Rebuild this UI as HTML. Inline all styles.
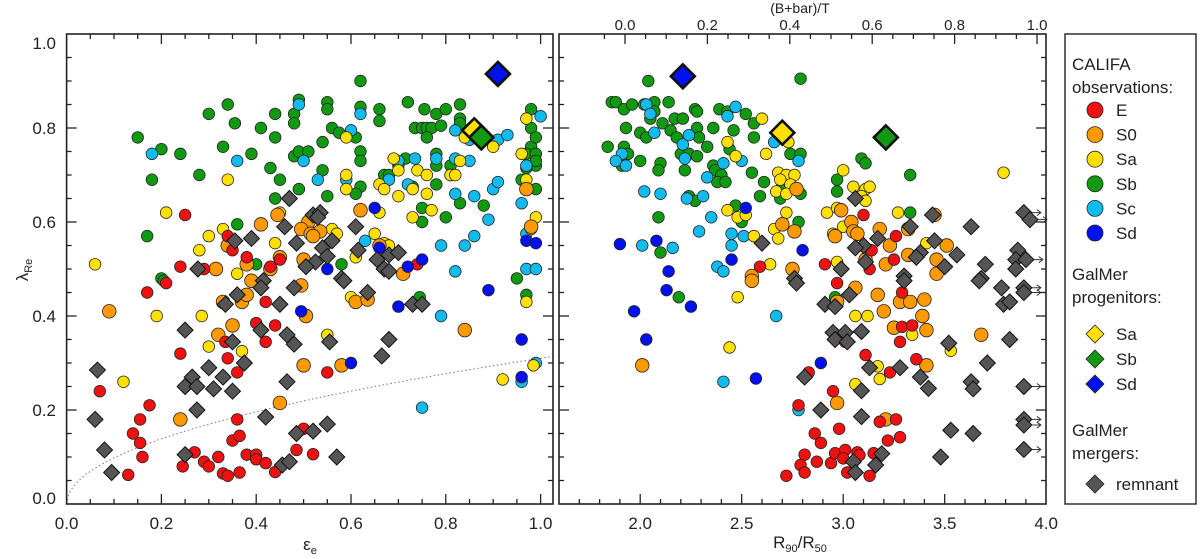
<!DOCTYPE html>
<html><head><meta charset="utf-8"><style>
html,body{margin:0;padding:0;background:#fff;}
svg{display:block;font-family:"Liberation Sans",sans-serif;}
</style></head><body>
<svg id="chart" width="1200" height="559" viewBox="0 0 1200 559">
<rect x="0" y="0" width="1200" height="559" fill="#fff"/>
<g id="left"></g>
<g id="right"></g>
<g id="legend"></g>
</svg>
<script>
// ---------- LEFT PANEL DATA: [ellipticity, lambda_Re] ----------
const leftE = [[.25,.615],[.34,.57],[.35,.54],[.38,.525],[.43,.505],[.45,.52],[.24,.505],[.29,.50],[.74,.51],[.17,.45],[.21,.47],[.24,.32],[.07,.24],[.175,.21],[.155,.18],[.14,.15],[.155,.13],[.16,.10],[.13,.062],[.245,.08],[.27,.11],[.29,.09],[.30,.08],[.32,.10],[.33,.065],[.34,.06],[.35,.135],[.365,.145],[.365,.067],[.36,.18],[.34,.31],[.36,.28],[.335,.345],[.38,.105],[.40,.105],[.40,.095],[.42,.087],[.44,.068],[.485,.115],[.50,.16],[.52,.106],[.55,.28],[.40,.385],[.42,.345],[.42,.43],[.44,.38]];
const leftS0 = [[.41,.595],[.445,.615],[.51,.60],[.495,.585],[.515,.575],[.535,.58],[.52,.57],[.62,.625],[.66,.55],[.71,.49],[.97,.67],[.98,.59],[.34,.55],[.38,.51],[.315,.50],[.43,.50],[.45,.525],[.50,.52],[.09,.41],[.32,.36],[.35,.38],[.33,.43],[.37,.43],[.38,.445],[.39,.475],[.495,.465],[.505,.40],[.50,.295],[.58,.295],[.61,.43],[.635,.435],[.45,.215],[.24,.18],[.84,.37]];
const leftSa = [[.06,.51],[.21,.62],[.34,.69],[.33,.585],[.30,.57],[.28,.54],[.36,.49],[.44,.555],[.45,.62],[.56,.585],[.57,.575],[.59,.70],[.59,.78],[.59,.67],[.66,.68],[.67,.67],[.65,.575],[.67,.555],[.66,.62],[.69,.735],[.70,.71],[.70,.655],[.73,.61],[.73,.67],[.74,.71],[.76,.70],[.76,.66],[.77,.625],[.81,.70],[.82,.70],[.83,.73],[.84,.78],[.86,.80],[.90,.76],[.96,.745],[.97,.82],[.97,.69],[.99,.61],[.98,.585],[.61,.525],[.68,.55],[.12,.26],[.19,.40],[.285,.40],[.30,.335],[.37,.325],[.55,.36],[.60,.44],[.92,.265],[.985,.295],[.97,.43]];
const leftSb = [[.15,.78],[.20,.755],[.18,.69],[.24,.745],[.17,.57],[.34,.85],[.355,.81],[.30,.83],[.33,.76],[.28,.70],[.39,.745],[.41,.80],[.44,.83],[.44,.78],[.43,.715],[.45,.69],[.49,.86],[.48,.83],[.48,.81],[.48,.74],[.49,.75],[.51,.75],[.54,.77],[.54,.71],[.55,.855],[.55,.84],[.56,.80],[.575,.79],[.61,.78],[.62,.90],[.62,.845],[.62,.75],[.62,.73],[.62,.675],[.61,.66],[.55,.655],[.49,.67],[.44,.65],[.36,.595],[.66,.84],[.66,.815],[.72,.855],[.67,.70],[.68,.70],[.70,.72],[.715,.735],[.73,.675],[.735,.80],[.75,.80],[.755,.84],[.76,.80],[.77,.80],[.76,.78],[.78,.83],[.79,.805],[.78,.745],[.78,.72],[.78,.68],[.80,.84],[.81,.72],[.81,.70],[.83,.85],[.83,.82],[.83,.81],[.83,.64],[.80,.61],[.75,.63],[.75,.60],[.88,.635],[.98,.84],[.98,.80],[.98,.76],[.97,.745],[.99,.745],[.99,.72],[.99,.73],[.99,.78],[.96,.69],[.97,.715],[.99,.67],[.95,.48],[.58,.51],[.40,.51],[.20,.48],[.745,.44],[.97,.445],[.205,.475]];
const leftSc = [[.18,.745],[.36,.73],[.49,.85],[.50,.73],[.53,.69],[.62,.83],[.60,.795],[.59,.69],[.735,.735],[.70,.73],[.68,.69],[.72,.68],[.78,.735],[.82,.795],[.82,.735],[.85,.775],[.85,.73],[.82,.66],[.86,.655],[.90,.67],[.91,.685],[.89,.605],[.86,.57],[.84,.55],[.79,.55],[.82,.495],[.91,.775],[.93,.785],[.96,.64],[.97,.72],[1.0,.825],[.97,.575],[.97,.50],[.99,.50],[.63,.56],[.79,.40],[.75,.205],[.96,.26],[.99,.30]];
const leftSd = [[.65,.63],[.75,.52],[.72,.505],[.55,.50],[.97,.56],[.99,.555],[.66,.545],[.89,.455],[.70,.42],[.495,.41],[.60,.30],[.96,.35],[.96,.27]];
const leftRem = [[.47,.65],[.46,.59],[.39,.565],[.355,.56],[.485,.555],[.52,.615],[.535,.62],[.53,.61],[.61,.59],[.56,.56],[.54,.545],[.55,.527],[.615,.54],[.655,.52],[.67,.50],[.68,.53],[.70,.535],[.525,.515],[.505,.505],[.277,.50],[.58,.48],[.415,.475],[.68,.495],[.065,.285],[.06,.18],[.08,.115],[.095,.067],[.25,.37],[.265,.27],[.25,.25],[.275,.25],[.275,.20],[.30,.29],[.31,.245],[.33,.27],[.35,.24],[.335,.425],[.36,.445],[.35,.345],[.375,.30],[.41,.46],[.41,.37],[.45,.425],[.465,.36],[.48,.34],[.48,.46],[.465,.26],[.42,.185],[.25,.105],[.455,.083],[.47,.09],[.485,.15],[.52,.155],[.55,.17],[.555,.345],[.57,.10],[.635,.45],[.665,.315],[.68,.35],[.73,.425],[.75,.425],[.585,.475]];
const leftProgSa = [.86,.795], leftProgSb = [.875,.78], leftProgSd = [.91,.915];
const curveCoef = 0.31;
const leftXTicks = ["0.0","0.2","0.4","0.6","0.8","1.0"];
const yTicks = ["0.0","0.2","0.4","0.6","0.8","1.0"];

// ---------- RIGHT PANEL DATA: [R90/R50, lambda_Re] ----------
const rightE = [[3.10,.615],[3.14,.54],[3.26,.57],[3.25,.52],[2.91,.51],[2.59,.505],[3.13,.50],[2.97,.47],[3.29,.45],[2.83,.28],[2.78,.21],[2.86,.15],[2.89,.13],[2.98,.16],[2.81,.105],[2.87,.09],[2.79,.083],[2.81,.067],[2.72,.06],[2.94,.087],[2.96,.108],[3.01,.115],[3.00,.097],[3.07,.11],[3.08,.104],[3.02,.067],[3.13,.06],[3.15,.108],[3.22,.135],[3.28,.142],[3.26,.18],[3.18,.175],[3.11,.317],[3.23,.28],[3.36,.308],[3.28,.345],[3.29,.377],[3.34,.38],[2.95,.24],[3.01,.345]];
const rightS0 = [[2.77,.67],[2.70,.595],[2.76,.58],[2.55,.485],[2.75,.50],[2.99,.625],[3.04,.60],[3.05,.58],[3.07,.575],[2.96,.57],[3.18,.585],[3.23,.55],[3.21,.51],[3.32,.53],[3.32,.585],[3.45,.615],[3.51,.55],[3.46,.52],[3.46,.49],[3.11,.52],[2.01,.295],[2.55,.475],[3.06,.46],[3.17,.445],[3.20,.41],[3.28,.43],[3.33,.43],[3.40,.435],[3.39,.40],[3.25,.375],[3.41,.37],[3.41,.295],[2.97,.215],[3.21,.18],[3.68,.36],[2.97,.43]];
const rightSa = [[2.60,.82],[2.43,.77],[2.73,.77],[2.62,.745],[2.47,.74],[2.68,.705],[2.72,.70],[2.76,.70],[2.69,.69],[2.74,.68],[2.67,.665],[2.72,.66],[2.43,.625],[2.48,.61],[2.52,.615],[2.72,.62],[2.66,.585],[2.68,.565],[2.56,.57],[2.64,.51],[2.92,.62],[2.97,.63],[2.95,.575],[3.00,.71],[3.05,.675],[3.11,.67],[3.13,.675],[3.09,.655],[3.11,.645],[2.97,.515],[3.79,.705],[3.27,.62],[3.41,.555],[3.00,.59],[2.48,.44],[2.44,.333],[3.06,.40],[3.12,.40],[3.34,.36],[3.53,.326],[3.17,.293],[3.18,.266],[3.06,.255]];
const rightSb = [[2.04,.90],[2.79,.905],[1.86,.855],[1.88,.855],[1.92,.84],[1.96,.85],[2.02,.85],[2.07,.855],[2.14,.855],[2.07,.835],[2.05,.82],[2.11,.81],[2.17,.82],[2.21,.82],[2.27,.84],[2.28,.835],[2.39,.84],[2.43,.835],[2.52,.83],[2.56,.81],[1.93,.80],[2.00,.79],[2.03,.78],[2.15,.795],[2.18,.78],[2.28,.80],[2.36,.80],[2.46,.795],[2.56,.78],[2.29,.78],[2.33,.76],[1.84,.76],[1.92,.76],[1.94,.745],[2.00,.73],[1.91,.72],[2.20,.745],[2.24,.745],[2.28,.74],[2.36,.72],[2.37,.71],[2.40,.70],[2.38,.685],[2.42,.685],[2.10,.725],[2.09,.71],[2.22,.71],[2.44,.755],[2.55,.705],[2.61,.685],[2.70,.68],[2.74,.745],[2.79,.745],[2.79,.66],[2.59,.655],[2.69,.65],[2.47,.635],[2.24,.655],[2.27,.645],[2.09,.61],[2.50,.60],[2.78,.60],[2.10,.535],[3.09,.735],[3.11,.725],[3.33,.70],[3.33,.62],[2.97,.69],[2.97,.665],[2.19,.44],[2.96,.44]];
const rightSc = [[2.03,.85],[2.05,.83],[2.07,.79],[2.21,.765],[2.24,.785],[2.22,.735],[2.43,.825],[2.47,.845],[2.41,.725],[2.50,.73],[2.66,.77],[2.78,.73],[1.91,.745],[1.88,.73],[1.93,.72],[2.02,.665],[2.10,.66],[2.23,.65],[2.31,.655],[2.33,.695],[2.35,.61],[2.29,.58],[2.45,.575],[2.51,.57],[2.45,.55],[2.16,.545],[2.01,.55],[2.38,.505],[2.41,.495],[2.67,.40],[2.41,.26],[2.78,.20]];
const rightSd = [[1.90,.553],[2.08,.56],[2.14,.495],[2.45,.52],[2.80,.54],[2.52,.63],[2.13,.455],[2.25,.42],[1.97,.41],[2.03,.35],[2.57,.267],[2.89,.30]];
const rightRem = [[3.06,.65],[3.33,.59],[3.63,.59],[3.44,.615],[3.17,.565],[3.10,.55],[3.06,.545],[3.11,.515],[2.99,.50],[2.60,.555],[3.45,.56],[3.38,.535],[3.36,.525],[3.56,.53],[3.50,.505],[3.70,.51],[3.86,.54],[3.85,.52],[3.90,.52],[3.89,.62],[3.92,.605],[3.30,.485],[3.68,.48],[2.76,.48],[3.85,.50],[2.77,.47],[3.03,.445],[2.91,.425],[2.96,.42],[2.95,.365],[3.01,.365],[3.09,.367],[2.96,.35],[3.02,.345],[3.13,.29],[3.28,.29],[3.38,.27],[3.42,.246],[3.09,.241],[2.81,.27],[2.89,.20],[3.09,.186],[3.19,.107],[3.16,.083],[3.05,.09],[3.06,.067],[3.52,.342],[3.71,.30],[3.63,.26],[3.64,.245],[3.53,.157],[3.64,.15],[3.48,.10],[3.78,.46],[3.79,.425],[3.82,.43],[3.82,.35],[3.89,.46],[3.89,.45],[3.89,.25],[3.89,.18],[3.89,.168],[3.89,.116],[3.30,.475],[3.67,.475]];
const rightProgSa = [2.70,.79], rightProgSb = [3.21,.78], rightProgSd = [2.21,.91];
const rightXTicks = ["2.0","2.5","3.0","3.5","4.0"];
const topTicks = ["0.0","0.2","0.4","0.6","0.8","1.0"];

const COL = {E:"#ee1111",S0:"#ff9900",Sa:"#ffe000",Sb:"#119911",Sc:"#11bbee",Sd:"#0011ee",rem:"#555555"};
const NS = "http://www.w3.org/2000/svg";
function mk(tag, attrs, parent){const e=document.createElementNS(NS,tag);for(const k in attrs)e.setAttribute(k,attrs[k]);parent.appendChild(e);return e;}

// axis functions
const yTop=34, yBot=504;
function yS(v){return yBot-470*v;}
function xL(v){return 66.6+474*v;}
function xR(v){return 559+203*(v-1.6);}
function xT(b){return 625+412*b;}

function frame(g,x0,x1){
  const r=mk('rect',{x:x0,y:yTop,width:x1-x0,height:yBot-yTop,fill:'none',stroke:'#222','stroke-width':1.6},g);
  
  
}
function tick(g,x1,y1,x2,y2){mk('line',{x1:x1,y1:y1,x2:x2,y2:y2,stroke:'#222','stroke-width':1.3},g);}
function yTicksOn(g,x0,x1,labels){
  for(let i=0;i<=20;i++){const v=i*0.05;const y=yS(v);const L=(i%4===0)?10:5;
    if(i>0&&i<20){tick(g,x0,y,x0+L,y);tick(g,x1,y,x1-L,y);}}
  if(labels){yTicks.forEach((t,i)=>{const v=i*0.2;let y=yS(v)+6;if(i===0)y-=6;if(i===yTicks.length-1)y+=9;
    const tx=mk('text',{x:56,y:y,'text-anchor':'end','font-size':17,fill:'#222'},g);tx.textContent=t;
    
    });}
}
function circle(g,p,xf,col,r,name){
  const c=mk('circle',{cx:xf(p[0]),cy:yS(p[1]),r:r,fill:col,stroke:'#222','stroke-width':0.8},g);
  
  
}
function diamond(g,p,xf,col,h,sw,name){
  const x=xf(p[0]),y=yS(p[1]);
  const d=mk('polygon',{points:`${x},${y-h} ${x+h},${y} ${x},${y+h} ${x-h},${y}`,fill:col,stroke:'#111','stroke-width':sw},g);
  
  
}
function txt(g,x,y,s,size,anchor,name){
  const t=mk('text',{x:x,y:y,'font-size':size,'text-anchor':anchor||'start',fill:'#222'},g);
  t.textContent=s;
  
  
  return t;
}
function drawSeries(g,xf,sets,rem,progs,arrows){
  sets.forEach(([arr,col,r,name])=>arr.forEach(p=>circle(g,p,xf,col,r,name)));
  rem.forEach(p=>{diamond(g,p,xf,COL.rem,8,1,'remnant-point');
    if(arrows&&p[0]>=3.88){const x=xf(p[0])+12,y=yS(p[1]);
      const a=mk('path',{d:`M${x-4},${y} L${x+5},${y} M${x+1},${y-3} L${x+5},${y} L${x+1},${y+3}`,stroke:'#333','stroke-width':1,fill:'none'},g);
      
      }});
  progs.forEach(([p,col,name])=>diamond(g,p,xf,col,12,2.6,name));
}

// ---- left panel ----
const gl=document.getElementById('left');
let dpath='';for(let i=0;i<=200;i++){const e=i/200*1.03;const y=curveCoef*Math.sqrt(e);dpath+=(i?'L':'M')+xL(e).toFixed(1)+','+yS(y).toFixed(1);}
const cv=mk('path',{d:dpath,fill:'none',stroke:'#777','stroke-width':1,'stroke-dasharray':'1.5,2.5'},gl);


drawSeries(gl,xL,[[leftSb,COL.Sb,5.8,'sb-point'],[leftSc,COL.Sc,5.8,'sc-point'],[leftSa,COL.Sa,5.8,'sa-point'],[leftS0,COL.S0,6.8,'s0-point'],[leftE,COL.E,5.8,'e-point'],[leftSd,COL.Sd,5.8,'sd-point']],leftRem,[[leftProgSd,COL.Sd,'progenitor-sd'],[leftProgSa,COL.Sa,'progenitor-sa'],[leftProgSb,COL.Sb,'progenitor-sb']],false);
frame(gl,66.6,553);
for(let i=1;i<=20;i++){const x=xL(i*0.05);if(x>552)break;const L=(i%4===0)?10:5;tick(gl,x,yBot,x,yBot-L);tick(gl,x,yTop,x,yTop+L);}
yTicksOn(gl,66.6,553,true);
leftXTicks.forEach((t,i)=>{txt(gl,xL(i*0.2),529,t,17,'middle','x-tick-label');});
const xl=txt(gl,310,550,'ε',17,'middle','x-axis-title');
const xls=mk('tspan',{'font-size':11,dy:4},xl);xls.textContent='e';
const yl=mk('text',{x:0,y:0,'font-size':17,fill:'#222','text-anchor':'middle',transform:'translate(28,270) rotate(-90)'},gl);


yl.textContent='λ';const yls=mk('tspan',{'font-size':11,dy:4},yl);yls.textContent='Re';

// ---- right panel ----
const gr=document.getElementById('right');
drawSeries(gr,xR,[[rightSb,COL.Sb,5.8,'sb-point'],[rightSc,COL.Sc,5.8,'sc-point'],[rightSa,COL.Sa,5.8,'sa-point'],[rightS0,COL.S0,6.8,'s0-point'],[rightE,COL.E,5.8,'e-point'],[rightSd,COL.Sd,5.8,'sd-point']],rightRem,[[rightProgSd,COL.Sd,'progenitor-sd'],[rightProgSa,COL.Sa,'progenitor-sa'],[rightProgSb,COL.Sb,'progenitor-sb']],true);
frame(gr,559,1046);
for(let i=0;i<=24;i++){const v=1.6+i*0.1;const x=xR(v);if(x<=560||x>=1045)continue;const L=(Math.abs((v*2)-Math.round(v*2))<1e-6)?10:5;tick(gr,x,yBot,x,yBot-L);}
for(let i=-1;i<=21;i++){const b=i*0.05;const x=xT(b);if(x<=560||x>=1045)continue;const L=(i%4===0)?10:5;tick(gr,x,yTop,x,yTop+L);}
yTicksOn(gr,559,1046,false);
rightXTicks.forEach((t,i)=>txt(gr,xR(2+i*0.5),529,t,17,'middle','x-tick-label'));
topTicks.forEach((t,i)=>txt(gr,xT(i*0.2),30,t,15,'middle','top-tick-label'));
txt(gr,800,13,'(B+bar)/T',14,'middle','top-axis-title');
const rl=txt(gr,800,548,'R',17,'middle','x-axis-title');
let s1=mk('tspan',{'font-size':11,dy:4},rl);s1.textContent='90';
let s2=mk('tspan',{dy:-4},rl);s2.textContent='/R';
let s3=mk('tspan',{'font-size':11,dy:4},rl);s3.textContent='50';

// ---- legend ----
const lg=document.getElementById('legend');
const lb=mk('rect',{x:1065,y:34,width:131,height:470,fill:'#fff',stroke:'#222','stroke-width':1.4},lg);


txt(lg,1072,70,'CALIFA',17,'start','legend-heading');
txt(lg,1072,93,'observations:',17,'start','legend-heading');
[['E',COL.E],['S0',COL.S0],['Sa',COL.Sa],['Sb',COL.Sb],['Sc',COL.Sc],['Sd',COL.Sd]].forEach(([n,c],i)=>{
  const y=110+i*24.6;
  const cc=mk('circle',{cx:1095,cy:y,r:8,fill:c,stroke:'#222','stroke-width':0.8},lg);
  
  
  txt(lg,1116,y+6,n,17,'start','legend-label');
});
txt(lg,1072,280,'GalMer',17,'start','legend-heading');
txt(lg,1072,303,'progenitors:',17,'start','legend-heading');
[['Sa',COL.Sa],['Sb',COL.Sb],['Sd',COL.Sd]].forEach(([n,c],i)=>{
  const y=334+i*25;const x=1095;
  const d=mk('polygon',{points:`${x},${y-9} ${x+9},${y} ${x},${y+9} ${x-9},${y}`,fill:c,stroke:'#222','stroke-width':0.8},lg);
  
  
  txt(lg,1116,y+6,n,17,'start','legend-label');
});
txt(lg,1072,436,'GalMer',17,'start','legend-heading');
txt(lg,1072,459,'mergers:',17,'start','legend-heading');
{const y=484,x=1095;
  const d=mk('polygon',{points:`${x},${y-9} ${x+9},${y} ${x},${y+9} ${x-9},${y}`,fill:COL.rem,stroke:'#222','stroke-width':0.8},lg);
  
  
  txt(lg,1116,y+6,'remnant',17,'start','legend-label');}
</script>
</body></html>
